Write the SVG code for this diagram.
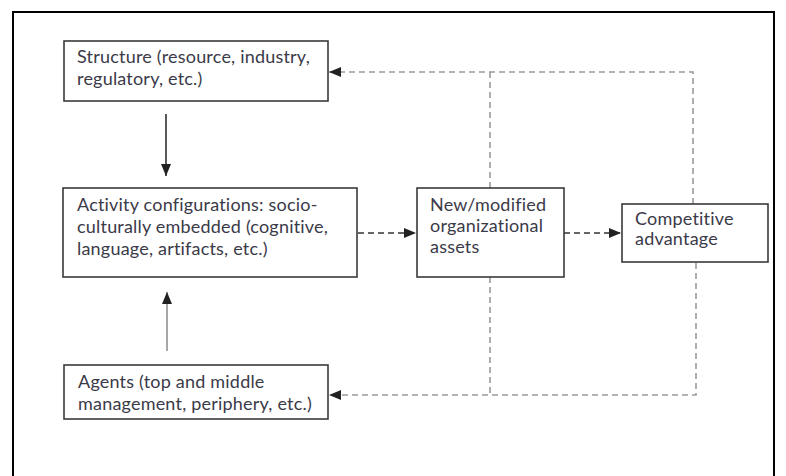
<svg xmlns="http://www.w3.org/2000/svg" width="786" height="476" viewBox="0 0 786 476">
<style>
.box{fill:#fff;stroke:#3a3a3a;stroke-width:1.6}
.t{font-family:Lato,"Open Sans","Liberation Sans",sans-serif;font-size:18px;letter-spacing:0.2px;fill:#3b3a48}
.solid{fill:none;stroke:#222;stroke-width:1.5}
.grey{fill:none;stroke:#8a8a8a;stroke-width:1.5}
.dk{fill:none;stroke:#333;stroke-width:1.5;stroke-dasharray:6 4}
.fb{fill:none;stroke:#9a9a9a;stroke-width:1.6;stroke-dasharray:6 4}
</style>
<defs>
<marker id="ah" viewBox="0 0 12 10" refX="12" refY="5" markerWidth="12" markerHeight="10" markerUnits="userSpaceOnUse" orient="auto">
<path d="M0,0 L12,5 L0,10 Z" fill="#222"/>
</marker>
</defs>
<rect width="786" height="476" fill="#fff"/>
<path d="M13,476 V12 H774 V476" fill="none" stroke="#000" stroke-width="2"/>
<g id="connectors">
<line class="solid" x1="166" y1="114" x2="166" y2="176" marker-end="url(#ah)"/>
<line class="grey" x1="167" y1="351" x2="167" y2="292" marker-end="url(#ah)"/>
<line class="dk" x1="358" y1="233" x2="416" y2="233" marker-end="url(#ah)"/>
<line class="dk" x1="564" y1="233" x2="621" y2="233" marker-end="url(#ah)"/>
<path class="fb" d="M693,204 V72 H329" marker-end="url(#ah)"/>
<path class="fb" d="M490,188 V72"/>
<path class="fb" d="M696,263 V395 H329" marker-end="url(#ah)"/>
<path class="fb" d="M490,277 V395"/>
</g>
<g id="structure">
<rect class="box" x="64" y="41" width="264" height="60"/>
<text class="t" x="77" y="63">Structure (resource, industry,</text>
<text class="t" x="77" y="85">regulatory, etc.)</text>
</g>
<g id="activity">
<rect class="box" x="63" y="188" width="294" height="89"/>
<text class="t" x="77" y="211">Activity configurations: socio-</text>
<text class="t" x="77" y="233">culturally embedded (cognitive,</text>
<text class="t" x="77" y="255">language, artifacts, etc.)</text>
</g>
<g id="assets">
<rect class="box" x="417" y="188" width="147" height="89"/>
<text class="t" x="430" y="211">New/modified</text>
<text class="t" x="430" y="232">organizational</text>
<text class="t" x="430" y="253">assets</text>
</g>
<g id="advantage">
<rect class="box" x="622" y="204" width="146" height="58"/>
<text class="t" x="635" y="225">Competitive</text>
<text class="t" x="635" y="245">advantage</text>
</g>
<g id="agents">
<rect class="box" x="64" y="365" width="264" height="54"/>
<text class="t" x="78" y="388">Agents (top and middle</text>
<text class="t" x="78" y="410">management, periphery, etc.)</text>
</g>
</svg>
